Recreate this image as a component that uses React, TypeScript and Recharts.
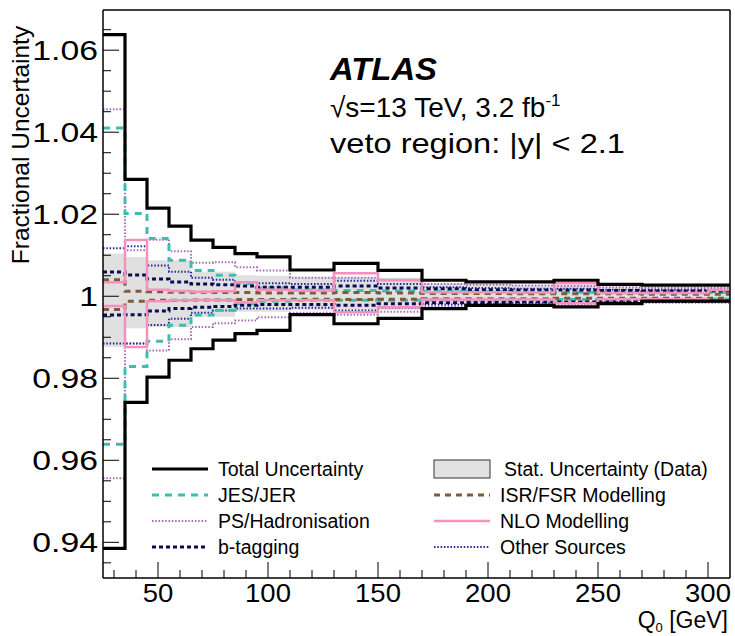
import React from 'react';
import { ComposedChart, Line, Area, XAxis, YAxis, ReferenceLine } from 'recharts';

// bin edges in Q0 [GeV]
const EDGES = [25, 35, 45, 55, 65, 75, 85, 95, 110, 130, 150, 170, 190, 210, 230, 250, 270, 300, 310];

// upward / downward shifts from 1, one per bin
const TOTAL_UP = [0.0638, 0.0285, 0.0215, 0.0171, 0.0137, 0.0119, 0.0104, 0.0096, 0.0064, 0.008, 0.0063, 0.0039, 0.0035, 0.0035, 0.0039, 0.0029, 0.0027, 0.0027];
const TOTAL_DN = [0.0615, 0.0259, 0.0197, 0.0156, 0.0128, 0.0107, 0.0091, 0.0083, 0.0045, 0.0067, 0.0054, 0.003, 0.0022, 0.0022, 0.0026, 0.0018, 0.0012, 0.0012];
const STAT_UP = [0.0104, 0.0096, 0.0088, 0.0088, 0.006, 0.006, 0.0051, 0.005, 0.0047, 0.0047, 0.0045, 0.0031, 0.003, 0.0027, 0.0027, 0.0023, 0.0022, 0.0022];
const STAT_DN = [0.0124, 0.0078, 0.0075, 0.0075, 0.005, 0.005, 0.0038, 0.0038, 0.0034, 0.0034, 0.0033, 0.0018, 0.0018, 0.0014, 0.0014, 0.001, 0.001, 0.001];
const JES_UP = [0.041, 0.0202, 0.0141, 0.0088, 0.0063, 0.0051, 0.0031, 0.002, 0.0015, 0.0014, 0.0013, 0.0012, 0.0011, 0.001, 0.001, 0.0009, 0.0009, 0.0009];
const JES_DN = [0.0361, 0.0171, 0.011, 0.0071, 0.0046, 0.0034, 0.0018, 0.0012, 0.001, 0.001, 0.001, 0.0009, 0.0009, 0.0008, 0.0008, 0.0008, 0.0007, 0.0007];
const PS_UP = [0.0456, 0.0112, 0.0138, 0.011, 0.0082, 0.0083, 0.0071, 0.0063, 0.0045, 0.0045, 0.004, 0.003, 0.0028, 0.0026, 0.0025, 0.0022, 0.002, 0.002];
const PS_DN = [0.0444, 0.0115, 0.0132, 0.0105, 0.0075, 0.0066, 0.0059, 0.0051, 0.004, 0.0045, 0.0038, 0.0025, 0.0022, 0.002, 0.002, 0.0018, 0.0016, 0.0016];
const BTAG_UP = [0.0059, 0.0052, 0.0042, 0.0035, 0.003, 0.0028, 0.0025, 0.0022, 0.0022, 0.0025, 0.002, 0.0018, 0.0016, 0.0015, 0.0015, 0.0014, 0.0013, 0.0013];
const BTAG_DN = [0.0046, 0.0045, 0.0036, 0.003, 0.0027, 0.0025, 0.0022, 0.002, 0.002, 0.0022, 0.0018, 0.0016, 0.0015, 0.0014, 0.0014, 0.0012, 0.0012, 0.0012];
const ISR_UP = [0.004, 0.0012, 0.0011, 0.001, 0.001, 0.0009, 0.0009, 0.0008, 0.0008, 0.0009, 0.0008, 0.0007, 0.0007, 0.0006, 0.0006, 0.0006, 0.0005, 0.0005];
const ISR_DN = [0.0032, 0.0012, 0.001, 0.001, 0.0009, 0.0009, 0.0008, 0.0008, 0.0007, 0.0008, 0.0007, 0.0006, 0.0006, 0.0006, 0.0005, 0.0005, 0.0005, 0.0005];
const NLO_UP = [0.0034, 0.0137, 0.0016, 0.0013, 0.0011, 0.0012, 0.0034, 0.0016, 0.0014, 0.0056, 0.0039, 0.001, 0.001, 0.0009, 0.0032, 0.0008, 0.0008, 0.0015];
const NLO_DN = [0.0024, 0.0124, 0.0012, 0.001, 0.0009, 0.001, 0.0015, 0.001, 0.001, 0.0039, 0.0027, 0.0008, 0.0008, 0.0008, 0.0017, 0.0007, 0.0007, 0.0012];
const OTHER_UP = [0.0117, 0.0122, 0.0075, 0.006, 0.0045, 0.004, 0.0035, 0.0032, 0.003, 0.0038, 0.003, 0.0022, 0.002, 0.0018, 0.0018, 0.0016, 0.0015, 0.0015];
const OTHER_DN = [0.0115, 0.0115, 0.007, 0.0055, 0.004, 0.0035, 0.003, 0.003, 0.0028, 0.0035, 0.0028, 0.002, 0.0018, 0.0016, 0.0016, 0.0014, 0.0013, 0.0013];

const Y_TICKS = [0.935, 0.94, 0.945, 0.95, 0.955, 0.96, 0.965, 0.97, 0.975, 0.98, 0.985, 0.99, 0.995, 1, 1.005, 1.01, 1.015, 1.02, 1.025, 1.03, 1.035, 1.04, 1.045, 1.05, 1.055, 1.06, 1.065];
const Y_MAJOR = [0.94, 0.96, 0.98, 1, 1.02, 1.04, 1.06];
const X_TICKS = [30, 40, 50, 60, 70, 80, 90, 100, 110, 120, 130, 140, 150, 160, 170, 180, 190, 200, 210, 220, 230, 240, 250, 260, 270, 280, 290, 300];
const X_LABELS = [50, 100, 150, 200, 250, 300];

const FONT = '"Liberation Sans", Arial, Helvetica, sans-serif';

// drawn in this order; total last so it sits on top
const SERIES = [
  { key: 'ps', name: 'PS/Hadronisation', up: PS_UP, dn: PS_DN, color: '#a66bb5', width: 2, dash: '1.5 1.8' },
  { key: 'other', name: 'Other Sources', up: OTHER_UP, dn: OTHER_DN, color: '#25259a', width: 2, dash: '1.5 1.8' },
  { key: 'jes', name: 'JES/JER', up: JES_UP, dn: JES_DN, color: '#3dbdb0', width: 3, dash: '7 6' },
  { key: 'btag', name: 'b-tagging', up: BTAG_UP, dn: BTAG_DN, color: '#0b0b55', width: 3, dash: '4 3' },
  { key: 'isr', name: 'ISR/FSR Modelling', up: ISR_UP, dn: ISR_DN, color: '#7d5c3c', width: 3, dash: '6 5' },
  { key: 'nlo', name: 'NLO Modelling', up: NLO_UP, dn: NLO_DN, color: '#f490bb', width: 2.5, dash: undefined },
  { key: 'total', name: 'Total Uncertainty', up: TOTAL_UP, dn: TOTAL_DN, color: '#000000', width: 3.2, dash: undefined },
];

const byKey = (k: string) => SERIES.find((s) => s.key === k)!;

const LEGEND_LEFT = ['total', 'jes', 'ps', 'btag'];
const LEGEND_RIGHT = ['stat', 'isr', 'nlo', 'other'];

// one row per edge, the last edge repeats the last bin (stepAfter)
const data = EDGES.map((x, i) => {
  const b = Math.min(i, EDGES.length - 2);
  const row: any = { x, stat: [1 - STAT_DN[b], 1 + STAT_UP[b]] };
  SERIES.forEach((s) => {
    row[s.key + 'Up'] = 1 + s.up[b];
    row[s.key + 'Dn'] = 1 - s.dn[b];
  });
  return row;
});

const majorY = (v: number) => Y_MAJOR.find((m) => Math.abs(m - v) < 1e-6);

const YTick = (props: any) => {
  const { x, y, payload } = props;
  const m = majorY(payload.value);
  const major = m !== undefined;
  return (
    <g>
      <line x1={x} x2={x + (major ? 16 : 8)} y1={y} y2={y} stroke="#000" strokeWidth={1} />
      {major && (
        <text transform={`translate(${x - 5},${y}) scale(1.25,1)`} textAnchor="end" dominantBaseline="central"
          fontSize={27} fontFamily={FONT} fill="#000">
          {m === 1 ? '1' : m!.toFixed(2)}
        </text>
      )}
    </g>
  );
};

const XTick = (props: any) => {
  const { x, y, payload } = props;
  const major = X_LABELS.includes(payload.value);
  return (
    <g>
      <line x1={x} x2={x} y1={y} y2={y - (major ? 16 : 8)} stroke="#000" strokeWidth={1} />
      {major && (
        <text transform={`translate(${x},${y + 24}) scale(1.1,1)`} textAnchor="middle" fontSize={25} fontFamily={FONT} fill="#000">
          {payload.value}
        </text>
      )}
    </g>
  );
};

const LegendRow = ({ k, x, y }: { k: string; x: number; y: number }) => {
  if (k === 'stat') {
    return (
      <g>
        <rect x={x} y={y - 9} width={56} height={18} fill="#e2e2e2" stroke="#333" strokeWidth={1} />
        <text x={x + 70} y={y} dominantBaseline="central" fontSize={19.5} fontFamily={FONT}>Stat. Uncertainty (Data)</text>
      </g>
    );
  }
  const s = byKey(k);
  return (
    <g>
      <line x1={x} x2={x + 56} y1={y} y2={y} stroke={s.color} strokeWidth={s.width} strokeDasharray={s.dash} />
      <text x={x + 66} y={y} dominantBaseline="central" fontSize={19.5} fontFamily={FONT}>{s.name}</text>
    </g>
  );
};

export default function App() {
  return (
    <div style={{ position: 'absolute', left: 0, top: 0, width: 735, height: 636, background: '#fff' }}>
      <ComposedChart width={735} height={636} data={data} margin={{ top: 10, right: 5, bottom: 0, left: 0 }}>
        <XAxis
          dataKey="x"
          type="number"
          domain={[25, 310]}
          allowDataOverflow
          ticks={X_TICKS}
          interval={0}
          tick={<XTick />}
          tickLine={false}
          tickSize={0}
          tickMargin={0}
          height={58}
          axisLine={{ stroke: '#000', strokeWidth: 1.5 }}
        />
        <YAxis
          type="number"
          domain={[0.9313, 1.0698]}
          allowDataOverflow
          ticks={Y_TICKS}
          interval={0}
          tick={<YTick />}
          tickLine={false}
          tickSize={0}
          tickMargin={0}
          width={103}
          axisLine={{ stroke: '#000', strokeWidth: 1.5 }}
        />
        <Area dataKey="stat" type="stepAfter" fill="#e0e0e0" fillOpacity={1} stroke="none" isAnimationActive={false} />
        {SERIES.flatMap((s) => [
          <Line key={s.key + 'Up'} dataKey={s.key + 'Up'} type="stepAfter" stroke={s.color} strokeWidth={s.width}
            strokeDasharray={s.dash} dot={false} activeDot={false} isAnimationActive={false} />,
          <Line key={s.key + 'Dn'} dataKey={s.key + 'Dn'} type="stepAfter" stroke={s.color} strokeWidth={s.width}
            strokeDasharray={s.dash} dot={false} activeDot={false} isAnimationActive={false} />,
        ])}
        <ReferenceLine y={1.0698} stroke="#000" strokeWidth={1.5} />
        <ReferenceLine x={310} stroke="#000" strokeWidth={1.5} />
      </ComposedChart>

      <svg width={735} height={636} style={{ position: 'absolute', left: 0, top: 0, pointerEvents: 'none' }} fontFamily={FONT}>
        <text x={330} y={80} fontSize={31} fontWeight="bold" fontStyle="italic" textLength={107} lengthAdjust="spacingAndGlyphs">ATLAS</text>
        <text x={330} y={117} fontSize={28}>
          √s=13 TeV, 3.2 fb<tspan dy={-11} fontSize={17}>-1</tspan>
        </text>
        <text x={330} y={153} fontSize={28} textLength={295} lengthAdjust="spacingAndGlyphs">veto region: |y| &lt; 2.1</text>

        <text x={29} y={145} fontSize={24.5} textAnchor="middle" transform="rotate(-90 29 145)">Fractional Uncertainty</text>
        <text x={728} y={628} fontSize={23} textAnchor="end">
          Q<tspan dy={4} fontSize={13}>0</tspan><tspan dy={-4}> [GeV]</tspan>
        </text>

        {LEGEND_LEFT.map((k, i) => <LegendRow key={k} k={k} x={152} y={469 + i * 26} />)}
        {LEGEND_RIGHT.map((k, i) => <LegendRow key={k} k={k} x={434} y={469 + i * 26} />)}
      </svg>
    </div>
  );
}
